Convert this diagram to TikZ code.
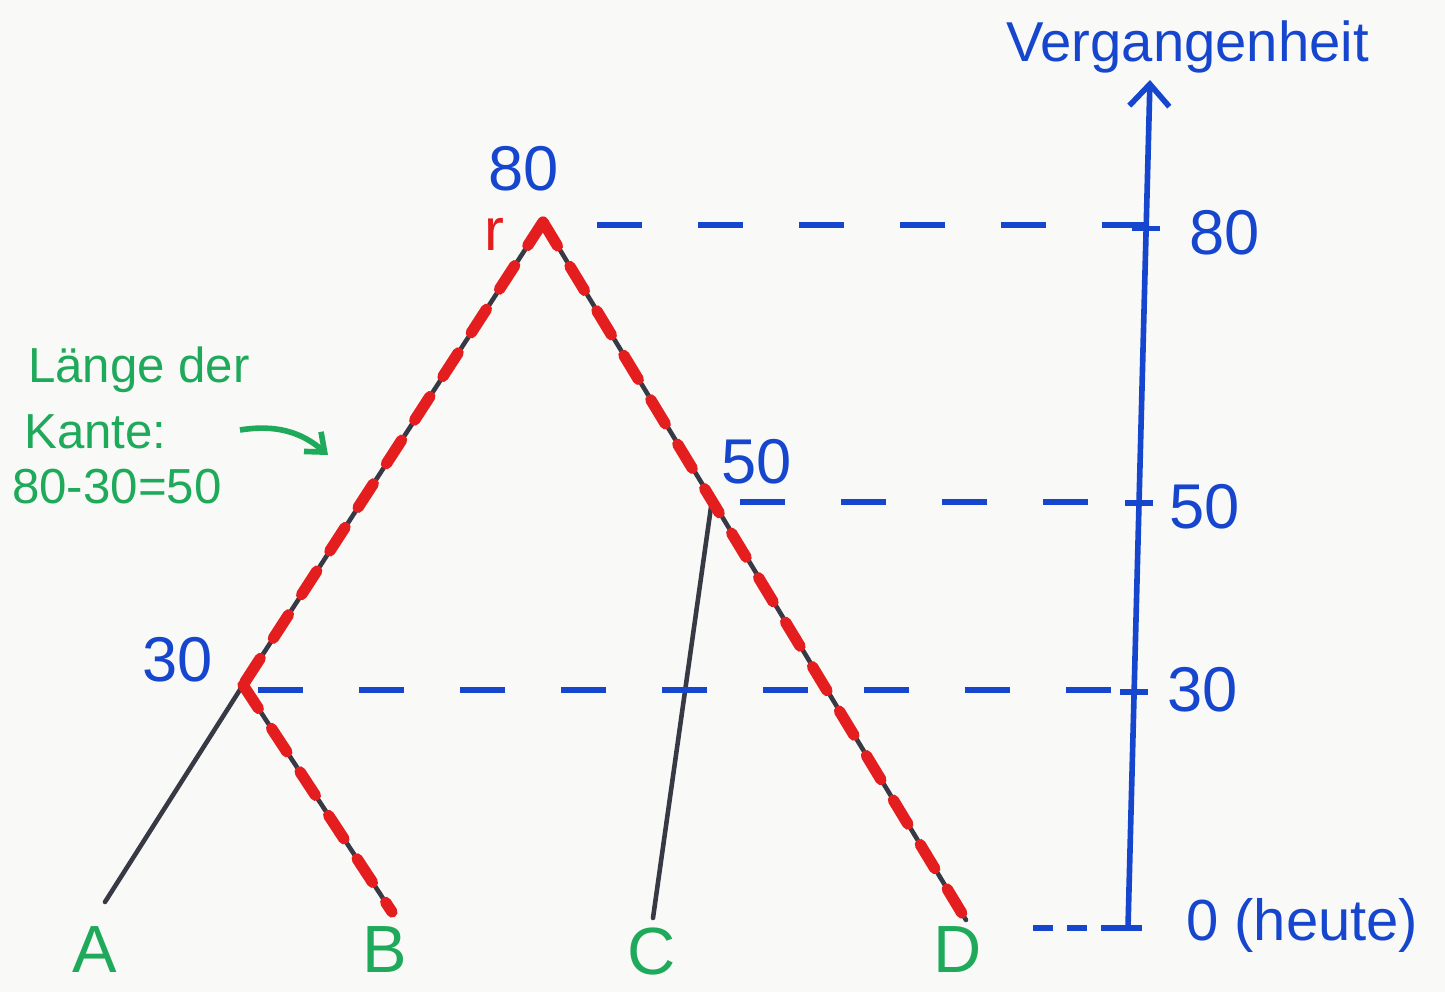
\documentclass[tikz,border=0pt]{standalone}
\usepackage{fontspec}
\setmainfont{Liberation Sans}
\usepackage{xcolor}
\usepackage{tikz}
\usetikzlibrary{arrows.meta,calc,positioning}
\definecolor{skPaper}{RGB}{249,249,247}
\definecolor{skInk}{RGB}{55,58,68}
\definecolor{skBlue}{RGB}{22,70,205}
\definecolor{skRed}{RGB}{228,30,30}
\definecolor{skGreen}{RGB}{30,170,90}
\tikzset{
  treeedge/.style={draw=skInk,line width=1.3pt,line cap=round},
  redmark/.style={draw=skRed,line width=3.2pt,dash pattern=on 0.28cm off 0.24cm,line cap=round},
  guide/.style={draw=skBlue,line width=1.6pt,dash pattern=on 0.45cm off 0.56cm},
  axisline/.style={draw=skBlue,line width=1.6pt},
  axistick/.style={draw=skBlue,line width=1.6pt},
  bluetext/.style={font=\fontsize{18}{21}\selectfont,text=skBlue,inner sep=1pt},
  leaftext/.style={font=\fontsize{19}{22}\selectfont,text=skGreen,inner sep=0pt},
  notetext/.style={font=\fontsize{14}{17}\selectfont,text=skGreen,anchor=west,inner sep=1pt},
}

\begin{document}
\begin{tikzpicture}[x=1cm,y=1cm]
% Page: 14.45 cm x 9.92 cm, as the sheet.
\fill[skPaper] (0,0) rectangle (14.45,9.92);
\useasboundingbox (0,0) rectangle (14.45,9.92);

% Tree: root r, inner vertices at 30 and 50, four leaves.
\coordinate (root) at (5.43,7.70);
\coordinate (n30) at (2.43,3.07);
\coordinate (n50) at (7.12,4.92);
\coordinate (leafA) at (1.05,0.90);
\coordinate (leafB) at (3.92,0.80);
\coordinate (leafC) at (6.53,0.74);
\coordinate (leafD) at (9.66,0.72);

\draw[treeedge] (root) -- (n30) -- (leafA);
\draw[treeedge] (n30) -- (leafB);
\draw[treeedge] (root) -- (n50) -- (leafD);
\draw[treeedge] (n50) -- (leafC);

% Red marked path r -> B and r -> D.
\draw[redmark] (root) -- (n30);
\draw[redmark] (n30) -- (leafB);
\draw[redmark] (root) -- (leafD);

\node[bluetext] (lab80) at (5.24,8.23) {80};
\node[font=\fontsize{17}{20}\selectfont,text=skRed,inner sep=0pt] (labr) at (4.94,7.58) {r};
\node[bluetext] (lab30) at (1.78,3.32) {30};
\node[bluetext] (lab50) at (7.57,5.30) {50};

\node[leaftext] (nameA) at (0.95,0.42) {A};
\node[leaftext] (nameB) at (3.85,0.42) {B};
\node[leaftext] (nameC) at (6.52,0.40) {C};
\node[leaftext] (nameD) at (9.58,0.42) {D};

% Time axis, slightly slanted like the sheet.
\coordinate (axbot) at (11.28,0.64);
\coordinate (axtop) at (11.50,9.12);
\draw[axisline,-{Straight Barb[length=2.2mm,width=4mm]}] (axbot) -- (axtop);
\node[bluetext,font=\fontsize{16}{19}\selectfont,anchor=west] (axname) at (10.02,9.45) {Vergangenheit};

\coordinate (t80) at ($(axbot)!0.825!(axtop)$);
\coordinate (t50) at ($(axbot)!0.501!(axtop)$);
\coordinate (t30) at ($(axbot)!0.278!(axtop)$);
\coordinate (t0) at (axbot);

\foreach \t in {t80,t50,t30,t0}
  \draw[axistick] ($(\t)+(-0.14,0)$) -- ($(\t)+(0.14,0)$);

\node[bluetext] (ax80) at (12.25,7.59) {80};
\node[bluetext] (ax50) at (12.05,4.85) {50};
\node[bluetext] (ax30) at (12.03,3.02) {30};
\node[bluetext,font=\fontsize{16.5}{19}\selectfont,anchor=west] (ax0) at (11.82,0.67) {0 (heute)};

% Dashed levels from the vertices to the axis.
\coordinate (g80) at (5.97,7.67);
\coordinate (g50) at (7.40,4.90);
\coordinate (g30) at (2.58,3.02);
\coordinate (g0) at (10.33,0.64);
\draw[guide] (g80) -- (g80 -| t80);
\draw[guide] (g50) -- (g50 -| t50);
\draw[guide] (g30) -- (g30 -| t30);
\draw[guide,dash pattern=on 0.2cm off 0.14cm] (g0) -- (g0 -| t0);

% Green note on the edge length.
\node[notetext] (note1) at (0.24,6.22) {Länge der};
\node[notetext] (note2) at (0.20,5.60) {Kante:};
\node[notetext] (note3) at (0.08,5.05) {80-30=50};
\coordinate (arrowto) at (3.28,5.37);
\draw[draw=skGreen,line width=1.6pt,-{Straight Barb[length=1.6mm,width=2.6mm]}]
  (2.40,5.62) to[bend left=25] (arrowto);
\end{tikzpicture}
\end{document}
